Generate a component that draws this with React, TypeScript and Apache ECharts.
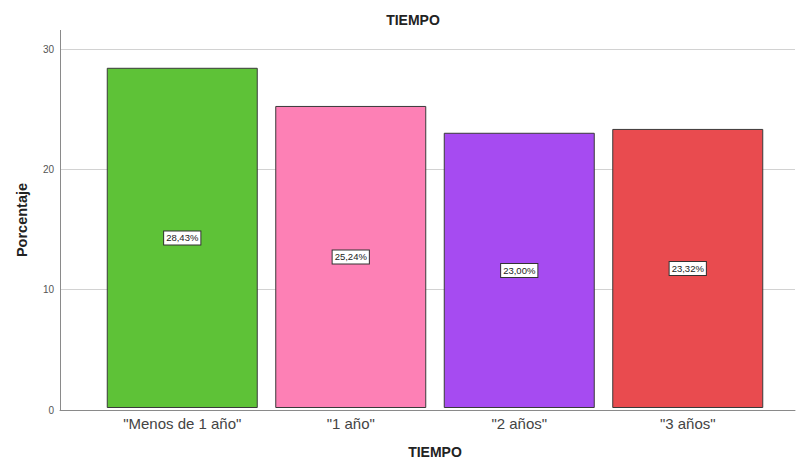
import React, { useEffect, useRef } from "react";
import * as echarts from "echarts";

const categories = ['"Menos de 1 año"', '"1 año"', '"2 años"', '"3 años"'];
const values = [28.43, 25.24, 23.0, 23.32];
const colors = ["#5ec237", "#fd80b5", "#a64bf1", "#e94b4f"];
const yTicks = [0, 10, 20, 30];

export default function App() {
  const ref = useRef<HTMLDivElement>(null);
  useEffect(() => {
    if (!ref.current) return;
    const chart = echarts.init(ref.current, null, { renderer: "svg" });
    const top = 49;
    const bottom = 54;
    const font = "Arial, Liberation Sans, sans-serif";
    chart.setOption({
      animation: false,
      backgroundColor: "#ffffff",
      title: {
        text: "TIEMPO",
        left: 408,
        textAlign: "center",
        top: 8,
        textStyle: { fontSize: 14, fontWeight: "bold", color: "#222", fontFamily: font },
      },
      grid: [
        { left: 60, right: 3, top, bottom },
        { left: 98, right: 26, top, bottom },
      ],
      xAxis: [
        {
          gridIndex: 0,
          type: "value",
          min: 0,
          max: 1,
          show: true,
          axisLine: { show: true, lineStyle: { color: "#8a8a8a", width: 1 } },
          axisTick: { show: false },
          axisLabel: { show: false },
          splitLine: { show: false },
        },
        {
          gridIndex: 1,
          type: "category",
          data: categories,
          axisLine: { show: false },
          axisTick: { show: false },
          axisLabel: {
            fontSize: 15,
            color: "#444",
            margin: 8,
            fontFamily: font,
          },
          name: "TIEMPO",
          nameLocation: "middle",
          nameGap: 37,
          nameTextStyle: { fontSize: 14, fontWeight: "bold", color: "#222", fontFamily: font },
        },
      ],
      yAxis: [
        {
          gridIndex: 0,
          type: "value",
          min: 0,
          max: 30,
          interval: 10,
          axisLine: { show: true, lineStyle: { color: "#8a8a8a", width: 1 } },
          axisTick: { show: false },
          axisLabel: {
            fontSize: 10,
            color: "#555",
            margin: 6,
            fontFamily: font,
            formatter: (v: number) => (yTicks.includes(v) ? String(v) : ""),
          },
          splitLine: { show: true, lineStyle: { color: "#d2d2d2", width: 1 } },
        },
        {
          gridIndex: 1,
          type: "value",
          min: 0,
          max: 30,
          show: false,
          splitLine: { show: false },
        },
      ],
      series: [
        {
          type: "bar",
          xAxisIndex: 1,
          yAxisIndex: 1,
          barWidth: 151,
          data: values.map((v, i) => ({
            value: v,
            itemStyle: { color: colors[i], borderColor: "#3a3a3a", borderWidth: 1 },
          })),
          label: {
            show: true,
            position: "inside",
            formatter: (p: any) => p.value.toFixed(2).replace(".", ",") + "%",
            fontSize: 9.5,
            color: "#222",
            backgroundColor: "#ffffff",
            borderColor: "#333",
            borderWidth: 1,
            padding: [2, 2, 1, 2],
            fontFamily: font,
          },
        },
      ],
      graphic: [
        {
          type: "line",
          shape: { x1: 60.5, y1: 30, x2: 60.5, y2: top },
          style: { stroke: "#8a8a8a", lineWidth: 1 },
        },
        {
          type: "text",
          x: 22,
          y: 220,
          rotation: Math.PI / 2,
          style: {
            text: "Porcentaje",
            fontSize: 14.5,
            fontWeight: "bold",
            fill: "#222",
            align: "center",
            verticalAlign: "middle",
            fontFamily: font,
          },
        },
      ],
    });
    return () => chart.dispose();
  }, []);
  return <div ref={ref} style={{ width: 798, height: 464, position: "absolute", left: 0, top: 0 }} />;
}
